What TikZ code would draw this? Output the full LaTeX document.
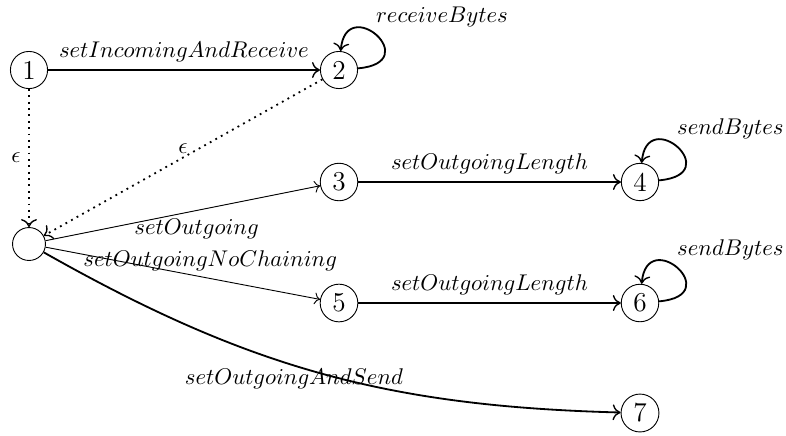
\documentclass[tikz,border=0pt]{standalone}
\usetikzlibrary{arrows.meta}
\begin{document}
\begin{tikzpicture}[x=0.44pt,y=-0.44pt,
  state/.style={circle,draw,thin,inner sep=2.3pt,minimum size=14.5pt,font=\large},
  strong/.style={thick,-{To[line width=0.6pt,length=3.5pt,width=7pt]}},
  weak/.style={thin,->},
  eps/.style={thick,dotted,-{To[line width=0.6pt,length=3.5pt,width=7pt]}},
  looplbl/.style={pos=0.5,anchor=south west,xshift=-4pt}]
\useasboundingbox (0,0) rectangle (786,435);
\node[state] (n1) at (29,70) {1};
\node[state] (n2) at (339,70) {2};
\node[state] (n0) at (29,244) {};
\node[state] (n3) at (339,182) {3};
\node[state] (n4) at (640,182) {4};
\node[state] (n5) at (339,303) {5};
\node[state] (n6) at (640,303) {6};
\node[state] (n7) at (640,413) {7};

\draw[strong] (n1) -- node[above] {$setIncomingAndReceive$} (n2);
\draw[strong] (n2.5) .. controls +(5:30pt) and +(85:26pt) .. node[looplbl] {$receiveBytes$} (n2.85);
\draw[eps] (n1) -- node[left] {$\epsilon$} (n0);
\draw[eps] (n2) -- node[above,yshift=-2pt] {$\epsilon$} (n0);
\draw[weak] (n0) -- node[below,pos=0.55] {$setOutgoing$} (n3);
\draw[weak] (n0) -- node[above,pos=0.6] {$setOutgoingNoChaining$} (n5);
\draw[strong] (n0) to[bend right=14] node[below,pos=0.45,yshift=2.5pt] {$setOutgoingAndSend$} (n7);
\draw[strong] (n3) -- node[above] {$setOutgoingLength$} (n4);
\draw[strong] (n4.5) .. controls +(5:30pt) and +(85:26pt) .. node[looplbl] {$sendBytes$} (n4.85);
\draw[strong] (n5) -- node[above] {$setOutgoingLength$} (n6);
\draw[strong] (n6.5) .. controls +(5:30pt) and +(85:26pt) .. node[looplbl] {$sendBytes$} (n6.85);
\end{tikzpicture}
\end{document}
